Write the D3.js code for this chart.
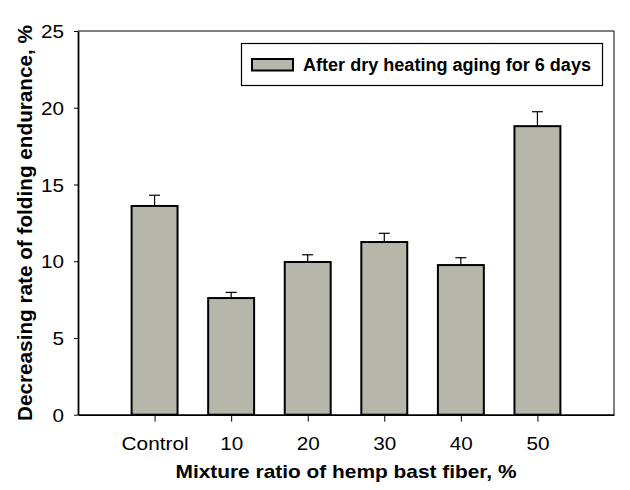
<!DOCTYPE html>
<html>
<head>
<meta charset="utf-8">
<script src="https://cdn.jsdelivr.net/npm/d3@7/dist/d3.min.js"></script>
<style>
  html, body { margin: 0; padding: 0; background: #fff; }
  text { font-family: "Liberation Sans", Arial, sans-serif; }
</style>
</head>
<body>
<svg id="chart" width="630" height="490"></svg>
<script>
const categories = ["Control", "10", "20", "30", "40", "50"];
const values = [13.6, 7.6, 9.95, 11.25, 9.75, 18.8];
const errors = [0.7, 0.37, 0.47, 0.57, 0.48, 0.94];
const yTicks = [0, 5, 10, 15, 20, 25];
const legendLabel = "After dry heating aging for 6 days";
const xTitle = "Mixture ratio of hemp bast fiber, %";
const yTitle = "Decreasing rate of folding endurance, %";

const svg = d3.select("#chart");
const L = 78, R = 614, T = 31, B = 414.7;

const x = d3.scaleLinear().domain([-1, categories.length]).range([L, R]);
const y = d3.scaleLinear().domain([0, 25]).range([B, T]);
const step = x(1) - x(0);
const bw = step * 0.6;
const fill = "#b6b6aa";

// frame top and right
svg.append("line").attr("x1", L).attr("x2", R).attr("y1", T).attr("y2", T)
  .attr("stroke", "#000").attr("stroke-width", 1);
svg.append("line").attr("x1", R).attr("x2", R).attr("y1", T).attr("y2", B)
  .attr("stroke", "#000").attr("stroke-width", 1);

// error bars
const eg = svg.append("g");
categories.forEach((c, i) => {
  const cx = x(i);
  eg.append("line").attr("x1", cx).attr("x2", cx)
    .attr("y1", y(values[i])).attr("y2", y(values[i] + errors[i]))
    .attr("stroke", "#000").attr("stroke-width", 1.2);
  eg.append("line").attr("x1", cx - 5.5).attr("x2", cx + 5.5)
    .attr("y1", y(values[i] + errors[i])).attr("y2", y(values[i] + errors[i]))
    .attr("stroke", "#000").attr("stroke-width", 1.2);
});

// bars
svg.append("g").selectAll("rect").data(values).join("rect")
  .attr("x", (d, i) => x(i) - bw / 2)
  .attr("width", bw)
  .attr("y", d => y(d))
  .attr("height", d => B - y(d))
  .attr("fill", fill)
  .attr("stroke", "#000")
  .attr("stroke-width", 2);

// y axis
const ya = svg.append("g").attr("transform", `translate(${L},0)`)
  .call(d3.axisLeft(y).tickValues(yTicks).tickSize(4).tickSizeOuter(0).tickPadding(10));
ya.select(".domain").attr("stroke-width", 1.8);
ya.selectAll(".tick line").attr("stroke-width", 1);
ya.selectAll(".tick text").attr("font-size", 18.5).attr("fill", "#000")
  .attr("font-family", "Liberation Sans, Arial, sans-serif")
  .attr("dy", "0.36em")
  .attr("textLength", d => String(d).length === 1 ? 11.5 : 23)
  .attr("lengthAdjust", "spacingAndGlyphs");

// x axis
const xa = svg.append("g").attr("transform", `translate(0,${B})`)
  .call(d3.axisBottom(x).tickValues(d3.range(categories.length))
    .tickFormat(i => categories[i]).tickSize(7).tickSizeOuter(0).tickPadding(15));
xa.select(".domain").attr("stroke-width", 1.8);
xa.selectAll(".tick line").attr("stroke-width", 1);
xa.selectAll(".tick text").attr("font-size", 18.5).attr("fill", "#000")
  .attr("font-family", "Liberation Sans, Arial, sans-serif")
  .attr("dy", "0.72em")
  .attr("textLength", i => categories[i] === "Control" ? 67 : 23)
  .attr("lengthAdjust", "spacingAndGlyphs");

// titles
svg.append("text").attr("x", (L + R) / 2 + 0).attr("y", 477.5)
  .attr("text-anchor", "middle").attr("font-weight", "bold").attr("font-size", 19)
  .attr("textLength", 341).attr("lengthAdjust", "spacingAndGlyphs")
  .text(xTitle);
svg.append("text").attr("transform", `translate(31.5,${(25 + 421) / 2}) rotate(-90)`)
  .attr("text-anchor", "middle").attr("font-weight", "bold").attr("font-size", 19.5)
  .attr("textLength", 396).attr("lengthAdjust", "spacingAndGlyphs")
  .text(yTitle);

// legend
const lg = svg.append("g");
lg.append("rect").attr("x", 241.5).attr("y", 43.5).attr("width", 361).attr("height", 42)
  .attr("fill", "#fff").attr("stroke", "#000").attr("stroke-width", 1.2);
lg.append("rect").attr("x", 252).attr("y", 59).attr("width", 41).attr("height", 11.5)
  .attr("fill", fill).attr("stroke", "#000").attr("stroke-width", 2);
lg.append("text").attr("x", 303).attr("y", 71.2)
  .attr("font-weight", "bold").attr("font-size", 17.5)
  .attr("textLength", 288).attr("lengthAdjust", "spacingAndGlyphs")
  .text(legendLabel);
</script>
</body>
</html>
